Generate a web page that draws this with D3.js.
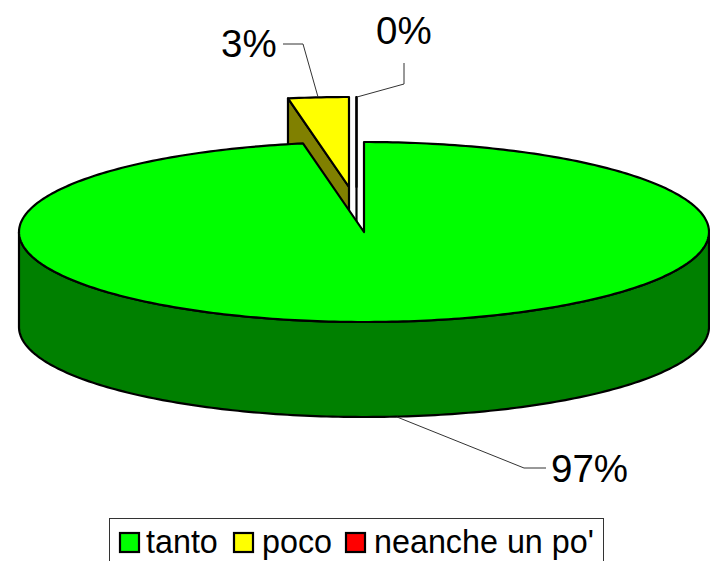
<!DOCTYPE html>
<html>
<head>
<meta charset="utf-8">
<script src="https://cdn.jsdelivr.net/npm/d3@7"></script>
<style>
  html, body { margin: 0; padding: 0; background: #fff; overflow: hidden; }
  svg { display: block; }
  text { font-family: "Liberation Sans", Arial, sans-serif; fill: #000; }
</style>
</head>
<body>
<svg id="chart" width="710" height="561"></svg>
<script>
const categories = ["tanto", "poco", "neanche un po'"];
// the labels round them
const values = [97.17, 2.83, 0];
const topColors = ["#00ff00", "#ffff00", "#ff0000"];
const sideColors = ["#008000", "#808000", "#800000"];

const svg = d3.select("#chart");

const cx = 364;
const cy = 232;
const rx = 345;
const ry = 90;
const depth = 95;

// pulled out slices, by hand from the picture
const offsets = [[0, 0], [-15, -45], [-7.5, -45]];

const arcs = d3.pie().sort(null).startAngle(0).endAngle(2 * Math.PI)(values);

const line = d3.line();
const px = (a, o, dy = 0) => [cx + o[0] + rx * Math.sin(a), cy + o[1] + dy - ry * Math.cos(a)];

function rimPoints(a0, a1, o, dy = 0) {
  const n = Math.max(1, Math.ceil(Math.abs(a1 - a0) * 60));
  return d3.range(n + 1).map((i) => px(a0 + ((a1 - a0) * i) / n, o, dy));
}

function drawSlice(i) {
  const d = arcs[i];
  const o = offsets[i];
  const apex = [cx + o[0], cy + o[1]];
  const apexLow = [apex[0], apex[1] + depth];
  const g = svg.append("g").attr("class", "slice");
  const wallStyle = (s) =>
    s.attr("fill", sideColors[i])
      .attr("stroke", "#000")
      .attr("stroke-width", 2.2)
      .attr("stroke-linejoin", "round");

  if (i === 0) {
    // outer wall, only the front half shows
    const wall = rimPoints(Math.PI / 2, (3 * Math.PI) / 2, o)
      .concat(rimPoints((3 * Math.PI) / 2, Math.PI / 2, o, depth));
    g.append("path").attr("d", line(wall) + "Z").call(wallStyle);
  } else {
    // cut face seen through the gap
    const start = px(d.startAngle, o);
    const startLow = px(d.startAngle, o, depth);
    g.append("path").attr("d", line([start, apex, apexLow, startLow]) + "Z").call(wallStyle);
  }

  g.append("path")
    .attr("d", line(rimPoints(d.startAngle, d.endAngle, o).concat([apex])) + "Z")
    .attr("fill", topColors[i])
    .attr("stroke", "#000")
    .attr("stroke-width", 2.2)
    .attr("stroke-linejoin", "round");
}

// back slices first, the big one covers them
drawSlice(2);
drawSlice(1);
drawSlice(0);

// leader lines and labels
const labelPos = [
  { x: 551, y: 482, leader: [[397, 417], [524, 468], [546, 468]] },
  { x: 221, y: 57, leader: [[318, 97], [303, 44], [283, 44]] },
  { x: 376, y: 44, leader: [[357, 97], [404, 84], [404, 63]] }
];

labelPos.forEach((p, i) => {
  svg.append("path")
    .attr("d", line(p.leader))
    .attr("fill", "none")
    .attr("stroke", "#333")
    .attr("stroke-width", 1);
  svg.append("text")
    .attr("x", p.x)
    .attr("y", p.y)
    .attr("font-size", 38.5)
    .text(`${Math.round(values[i])}%`);
});

// legend, the box runs off the bottom of the picture
svg.append("rect")
  .attr("x", 109.5)
  .attr("y", 518.5)
  .attr("width", 494)
  .attr("height", 60)
  .attr("fill", "#fff")
  .attr("stroke", "#333")
  .attr("stroke-width", 1);

const legendSwatch = [120, 234, 346];
const legendText = [146, 262, 374];

categories.forEach((c, i) => {
  svg.append("rect")
    .attr("x", legendSwatch[i])
    .attr("y", 533)
    .attr("width", 19)
    .attr("height", 19)
    .attr("fill", topColors[i])
    .attr("stroke", "#000")
    .attr("stroke-width", 2.2);
  svg.append("text")
    .attr("x", legendText[i])
    .attr("y", 553)
    .attr("font-size", 32.3)
    .text(c);
});
</script>
</body>
</html>
